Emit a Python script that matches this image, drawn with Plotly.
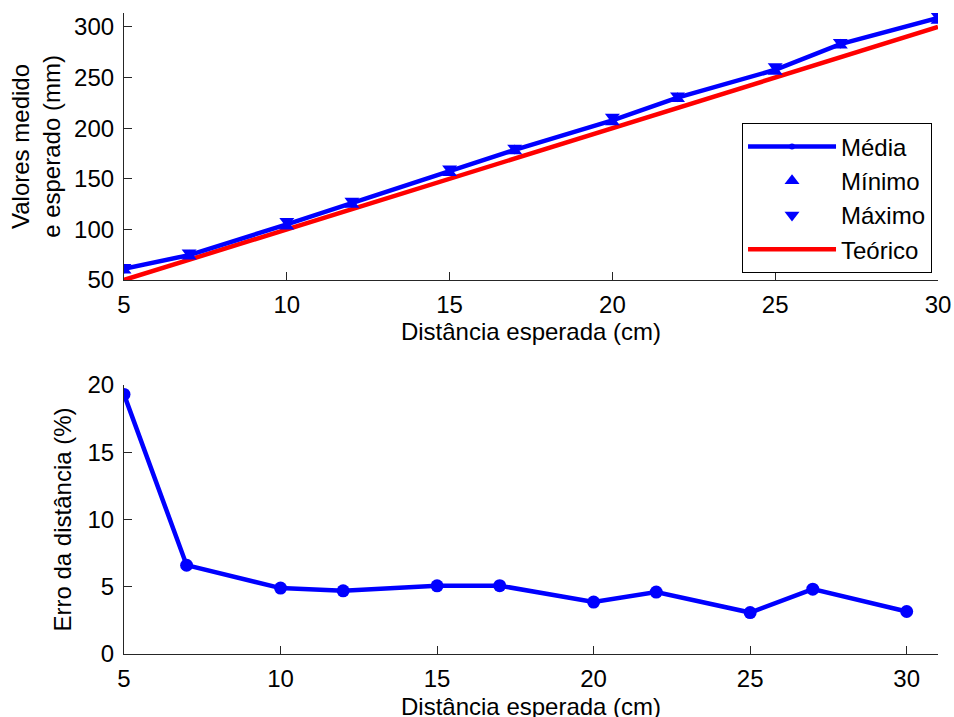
import plotly.graph_objects as go
from plotly.subplots import make_subplots

distancia = [5, 7, 10, 12, 15, 17, 20, 22, 25, 27, 30]
media = [61.0, 74.6, 104.9, 125.6, 157.6, 178.6, 207.7, 230.1, 257.7, 283.0, 309.0]
minimo = [59.5, 73.5, 103.0, 124.5, 156.0, 177.5, 206.0, 229.0, 256.0, 282.0, 306.5]
maximo = [62.5, 77.0, 108.0, 128.0, 160.0, 180.5, 211.0, 232.0, 261.0, 285.0, 311.0]
teorico = [50, 70, 100, 120, 150, 170, 200, 220, 250, 270, 300]
erro = [19.3, 6.6, 4.9, 4.7, 5.07, 5.08, 3.86, 4.6, 3.08, 4.82, 3.16]

xtitle = "Distância esperada (cm)"

FONT = "Liberation Sans, Arial, sans-serif"
BLUE = "#0000ff"
RED = "#ff0000"
FS = 24

fig = make_subplots(rows=2, cols=1)

fig.add_trace(go.Scatter(x=distancia, y=teorico, mode="lines", name="Teórico",
                         line=dict(color=RED, width=4.5), legendrank=4), row=1, col=1)
fig.add_trace(go.Scatter(x=distancia, y=media, mode="lines+markers", name="Média",
                         line=dict(color=BLUE, width=4.5), marker=dict(size=6, color=BLUE),
                         legendrank=1), row=1, col=1)
fig.add_trace(go.Scatter(x=distancia, y=minimo, mode="markers", name="Mínimo",
                         marker=dict(symbol="triangle-up", size=13, color=BLUE),
                         legendrank=2), row=1, col=1)
fig.add_trace(go.Scatter(x=distancia, y=maximo, mode="markers", name="Máximo",
                         marker=dict(symbol="triangle-down", size=13, color=BLUE),
                         legendrank=3), row=1, col=1)

fig.add_trace(go.Scatter(x=distancia, y=erro, mode="lines+markers", showlegend=False,
                         line=dict(color=BLUE, width=4.5), marker=dict(size=13, color=BLUE)),
              row=2, col=1)

axis_common = dict(showline=True, linecolor="#262626", linewidth=1.2, ticks="inside",
                   ticklen=8, tickwidth=1.2, tickcolor="#262626", showgrid=False,
                   zeroline=False, automargin=False, ticklabeloverflow="allow",
                   tickfont=dict(family=FONT, size=FS, color="black"),
                   title_font=dict(family=FONT, size=FS, color="black"))

fig.update_xaxes(**axis_common)
fig.update_yaxes(**axis_common)
fig.update_xaxes(ticklabelstandoff=3)
fig.update_yaxes(ticklabelstandoff=4)

fig.update_xaxes(range=[5, 30], tickvals=[5, 10, 15, 20, 25, 30], domain=[0, 1],
                 title_text=xtitle, title_standoff=2, row=1, col=1)
fig.update_yaxes(range=[50, 313.8], tickvals=[50, 100, 150, 200, 250, 300],
                 domain=[0.5835, 1.0], title_text="Valores medido<br>e esperado (mm)",
                 title_standoff=6, row=1, col=1)
fig.update_xaxes(range=[5, 31], tickvals=[5, 10, 15, 20, 25, 30], domain=[0, 1],
                 row=2, col=1)
fig.update_yaxes(range=[0, 20], tickvals=[0, 5, 10, 15, 20], domain=[0, 0.4197],
                 title_text="Erro da distância (%)", title_standoff=8, row=2, col=1)

fig.add_annotation(text=xtitle, xref="x2 domain", yref="y2 domain", x=0.5, y=0,
                   xanchor="center", yanchor="middle", yshift=-52, showarrow=False,
                   font=dict(family=FONT, size=FS, color="black"))

fig.update_layout(
    template="none",
    width=954, height=717,
    margin=dict(l=124, r=16, t=13, b=63, pad=0),
    paper_bgcolor="white", plot_bgcolor="white",
    font=dict(family=FONT, size=FS, color="black"),
    showlegend=True,
    legend=dict(x=0.759, y=0.828, xanchor="left", yanchor="top",
                bgcolor="white", bordercolor="black", borderwidth=1.2,
                font=dict(family=FONT, size=FS, color="black"),
                itemwidth=88),
)

fig.write_html("out.html", config={"displayModeBar": False},
               post_script="document.body.style.margin='0';document.body.style.overflow='hidden';")
